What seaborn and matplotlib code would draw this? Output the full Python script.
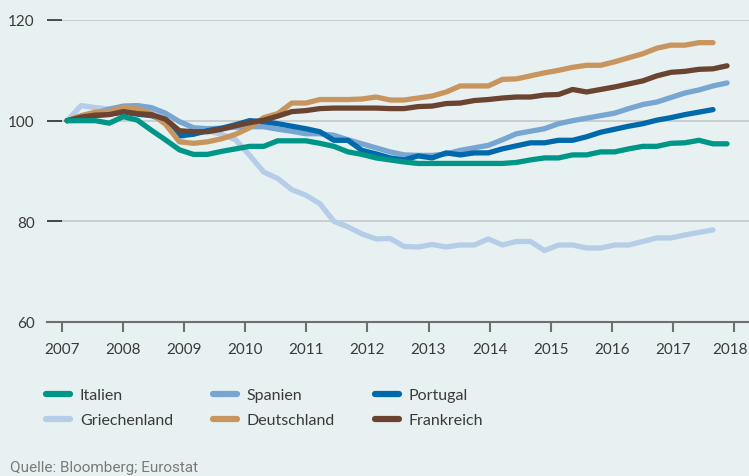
import numpy as np
import pandas as pd
import seaborn as sns
import matplotlib
matplotlib.use("Agg")
import matplotlib.pyplot as plt
from matplotlib.lines import Line2D
from matplotlib.transforms import ScaledTranslation

# Index, 2007 = 100
italien = [100, 100, 100, 99.5, 100.8, 100.1, 98.1, 96.2, 94.2, 93.3, 93.3, 93.9,
           94.4, 94.9, 94.9, 96, 96, 96, 95.5, 94.9, 93.8, 93.3, 92.6, 92.2,
           91.8, 91.5, 91.5, 91.5, 91.5, 91.5, 91.5, 91.5, 91.7, 92.2, 92.6, 92.6,
           93.2, 93.2, 93.8, 93.8, 94.4, 94.9, 94.9, 95.5, 95.6, 96.1, 95.4, 95.4]
spanien = [100, 100.8, 101.5, 102.3, 102.9, 103, 102.6, 101.5, 99.8, 98.6, 98.4, 98.5,
           98.7, 98.8, 98.8, 98.3, 97.9, 97.4, 97.4, 97.1, 96.2, 95.4, 94.6, 93.8,
           93.2, 93.1, 93.1, 93.4, 94.1, 94.6, 95.1, 96.2, 97.4, 97.9, 98.4, 99.4,
           100, 100.5, 101, 101.5, 102.4, 103.2, 103.7, 104.6, 105.5, 106.1, 106.9, 107.5]
portugal = [100, 100.5, 101, 101.3, 101.7, 101.3, 101, 100, 97, 97.3, 98, 98.5,
            99.2, 100, 99.8, 99.4, 98.9, 98.4, 97.8, 96.1, 96.1, 94.1, 93.4, 92.6,
            92.2, 93, 92.6, 93.6, 93.2, 93.6, 93.6, 94.4, 95, 95.6, 95.6, 96.1,
            96.1, 96.8, 97.7, 98.3, 98.9, 99.4, 100.1, 100.6, 101.2, 101.7, 102.2]
griechenland = [100, 103, 102.6, 102.3, 102.5, 102.5, 101.8, 100.5, 96.5, 97.8, 98, 97.3,
                96.2, 93.1, 89.8, 88.5, 86.3, 85.2, 83.5, 80, 78.9, 77.5, 76.5, 76.6,
                75, 74.9, 75.4, 74.9, 75.3, 75.3, 76.5, 75.3, 76, 76, 74.2, 75.3,
                75.3, 74.7, 74.7, 75.3, 75.3, 76, 76.7, 76.7, 77.3, 77.8, 78.3]
deutschland = [100, 101, 101.7, 101.8, 102.7, 102.4, 101.4, 99.3, 95.8, 95.5, 95.8, 96.4,
               97.3, 98.6, 100.6, 101.4, 103.5, 103.5, 104.2, 104.2, 104.2, 104.3, 104.7, 104.1,
               104.1, 104.5, 104.9, 105.7, 106.9, 106.9, 106.9, 108.2, 108.3, 108.9, 109.5, 110,
               110.6, 111, 111, 111.7, 112.5, 113.3, 114.4, 115, 115, 115.5, 115.5]
frankreich = [100, 100.7, 101.1, 101.2, 101.8, 101.4, 101.2, 100.3, 98, 97.8, 97.8, 98.3,
              99, 99.6, 100.1, 100.9, 101.8, 102, 102.4, 102.5, 102.5, 102.5, 102.5, 102.4,
              102.4, 102.8, 102.9, 103.4, 103.5, 104, 104.2, 104.5, 104.7, 104.7, 105.1, 105.2,
              106.2, 105.7, 106.2, 106.7, 107.3, 107.9, 108.9, 109.6, 109.8, 110.2, 110.3, 110.9]

series = {
    "Griechenland": griechenland,
    "Spanien": spanien,
    "Portugal": portugal,
    "Deutschland": deutschland,
    "Frankreich": frankreich,
    "Italien": italien,
}
colors = {
    "Italien": "#009687",
    "Spanien": "#77a6d3",
    "Portugal": "#0069ab",
    "Griechenland": "#b6cde7",
    "Deutschland": "#c9955f",
    "Frankreich": "#6a4331",
}
legend_order = ["Italien", "Griechenland", "Spanien", "Deutschland", "Portugal", "Frankreich"]
years = list(range(2007, 2019))

# time axis: observations every ~0.23 years starting early 2007
rows = []
for name, vals in series.items():
    t = 2007.08 + 0.23 * np.arange(len(vals))
    rows.append(pd.DataFrame({"t": t, "value": vals, "land": name}))
df = pd.concat(rows, ignore_index=True)

bg = "#e8f1f1"
sns.set_theme(style="white")
plt.rcParams["font.family"] = ["Lato", "DejaVu Sans"]

fig = plt.figure(figsize=(7.49, 4.77), dpi=100, facecolor=bg)
ax = fig.add_axes([47 / 749, (477 - 323) / 477, 702 / 749, 302 / 477])
ax.set_facecolor(bg)

sns.lineplot(data=df, x="t", y="value", hue="land", hue_order=list(series.keys()),
             palette=colors, linewidth=3.8, solid_capstyle="round",
             solid_joinstyle="round", legend=False, ax=ax)

ax.set_xlim(2006.75, 2018.25)
ax.set_ylim(60, 120)
ax.set_xticks(years)
ax.set_yticks([60, 80, 100, 120])
ax.set_xlabel("")
ax.set_ylabel("")

ax.yaxis.grid(True, color="#c3c8c9", linewidth=1.2)
ax.set_axisbelow(True)
for s in ["left", "right", "top"]:
    ax.spines[s].set_visible(False)
ax.spines["bottom"].set_color("#6e6e6e")
ax.spines["bottom"].set_linewidth(1.5)

ax.tick_params(axis="x", direction="out", length=7.5, width=1.5, color="#6e6e6e",
               pad=7, labelsize=11, labelcolor="#3a3a3a", bottom=True)
ax.tick_params(axis="y", direction="in", length=11, width=1.1, color="#222222",
               pad=9, labelsize=11, labelcolor="#3a3a3a", left=True)

# keep the last year label inside the figure
last = ax.get_xticklabels()[-1]
last.set_transform(last.get_transform() + ScaledTranslation(-3 / 72, 0, fig.dpi_scale_trans))

handles = [Line2D([0], [0], color=colors[n], lw=4.5, solid_capstyle="round") for n in legend_order]
fig.legend(handles, legend_order, loc="upper left", ncol=3,
           bbox_to_anchor=(46 / 749, 1 - 389 / 477), frameon=False,
           fontsize=11.5, labelcolor="#3a3a3a", handlelength=1.5, handletextpad=0.62,
           columnspacing=2.5, labelspacing=0.68, borderpad=0, borderaxespad=0)

fig.text(10 / 749, 1 - 468 / 477, "Quelle: Bloomberg; Eurostat", va="center", ha="left",
         fontsize=11, color="#7a7a7a",
         family=["Liberation Sans Narrow", "Roboto", "DejaVu Sans"])

fig.savefig("out.png", dpi=100, facecolor=bg)
